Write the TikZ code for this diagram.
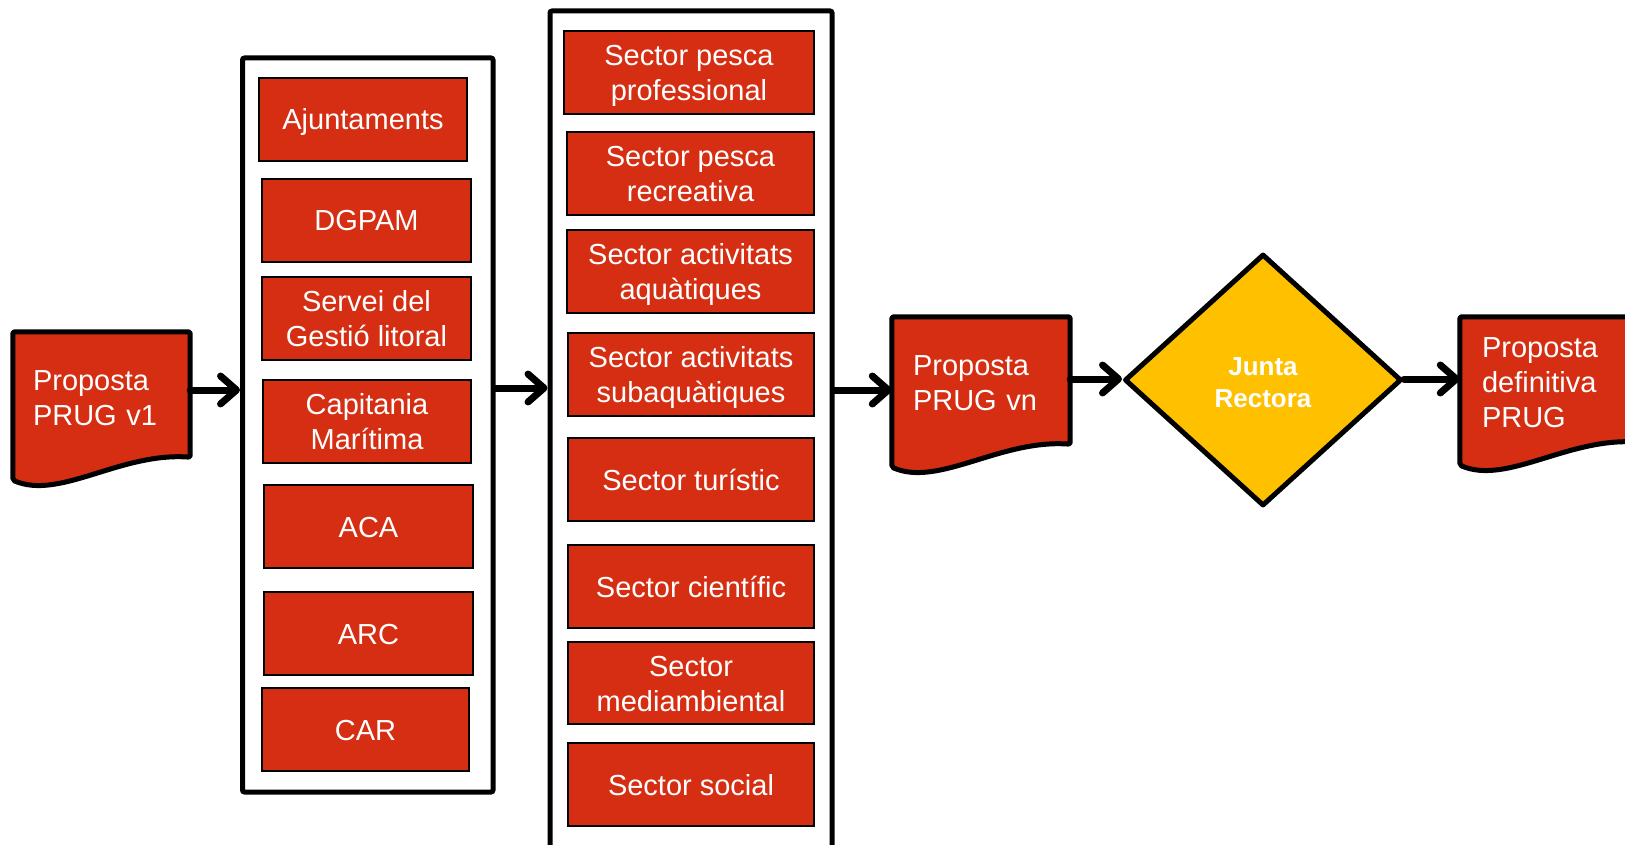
\documentclass[tikz,border=0pt]{standalone}
\usepackage{fontspec}
\setmainfont{Liberation Sans}
\usetikzlibrary{arrows.meta,shapes.geometric,calc}
\definecolor{boxred}{RGB}{213,46,19}
\definecolor{jyellow}{RGB}{255,192,0}
\newcommand\fsz{\fontsize{29pt}{35pt}\selectfont}
\newcommand\dpstrut[1]{\rule[-#1pt]{0pt}{#1pt}}
\newcommand\twolines[2]{\rule{0pt}{27pt}#1\\#2\rule[-6pt]{0pt}{6pt}}
\tikzset{
  redbox/.style={draw=black, line width=1.5pt, fill=boxred, text=white, inner sep=0pt,
    minimum height=83pt, align=center, font=\fsz},
  oneline/.style={text height=27pt, text depth=6pt},
  container/.style={draw=black, line width=5pt, rounded corners=2pt, inner sep=0pt},
  docnode/.style={text=white, inner ysep=0pt, align=left, font=\fsz},
  docline/.style={draw=black, line width=5pt, line join=round, rounded corners=2pt},
  flowarrow/.style={line width=7pt, line cap=round,
    -{Straight Barb[length=16pt,width=28pt,line cap=round,line join=round]}},
}
\newcommand\docshape[1]{%
  \fill[boxred] (#1.north west) -- (#1.north east) -- ([yshift=23pt]#1.south east)
    .. controls ([xshift=-70pt,yshift=28pt]#1.south east) and ([xshift=47pt,yshift=-20pt]#1.south west) .. (#1.south west) -- cycle;
  \draw[docline] (#1.north west) -- (#1.north east) -- ([yshift=23pt]#1.south east)
    .. controls ([xshift=-70pt,yshift=28pt]#1.south east) and ([xshift=47pt,yshift=-20pt]#1.south west) .. (#1.south west) -- cycle;}
\begin{document}
\begin{tikzpicture}[x=1pt,y=-1pt]
\clip (0,0) rectangle (1625,845);
\fill[white] (0,0) rectangle (1625,845);

% documents
\node[docnode, minimum height=148pt, text width=137pt, inner xsep=20pt] (d1) at (101.5,406) {};
\docshape{d1}
\node[docnode, minimum height=148pt, text width=137pt, inner xsep=20pt] at (d1) {Proposta\\PRUG v1\dpstrut{15}};

\node[docnode, minimum height=150pt, text width=136pt, inner xsep=21pt] (dn) at (981,392) {};
\docshape{dn}
\node[docnode, minimum height=150pt, text width=136pt, inner xsep=21pt] at (dn) {Proposta\\PRUG vn\dpstrut{17}};

\node[docnode, minimum height=148pt, text width=134pt, inner xsep=22pt] (df) at (1549,391) {};
\docshape{df}
\node[docnode, minimum height=148pt, text width=134pt, inner xsep=22pt] at (df) {Proposta\\definitiva\\PRUG\dpstrut{16}};

% containers
\node[container, minimum width=250.5pt, minimum height=734pt] (L) at (367.75,425) {};
\node[container, minimum width=282pt, minimum height=849pt] (R) at (691,435.5) {};

% left boxes
\node[redbox, oneline, minimum width=208pt] (b1) at (363,119.5) {Ajuntaments};
\node[redbox, oneline, minimum width=209pt] (b2) at (366.5,220.5) {DGPAM};
\node[redbox, minimum width=209pt] (b3) at (366.5,318.5) {\twolines{Servei del}{Gestió litoral}};
\node[redbox, minimum width=208pt] (b4) at (367,421.5) {\twolines{Capitania}{Marítima}};
\node[redbox, oneline, minimum width=209pt] (b5) at (368.5,526.5) {ACA};
\node[redbox, oneline, minimum width=209pt] (b6) at (368.5,633.5) {ARC};
\node[redbox, oneline, minimum width=207pt] (b7) at (365.5,729.5) {CAR};

% right boxes
\node[redbox, minimum width=250pt] (s1) at (689,72.5) {\twolines{Sector pesca}{professional}};
\node[redbox, minimum width=247pt] (s2) at (690.5,173.5) {\twolines{Sector pesca}{recreativa}};
\node[redbox, minimum width=247pt] (s3) at (690.5,271.5) {\twolines{Sector activitats}{aquàtiques}};
\node[redbox, minimum width=246pt] (s4) at (691,374.5) {\twolines{Sector activitats}{subaquàtiques}};
\node[redbox, oneline, minimum width=246pt] (s5) at (691,479.5) {Sector turístic};
\node[redbox, oneline, minimum width=246pt] (s6) at (691,586.5) {Sector científic};
\node[redbox, minimum width=246pt, minimum height=82pt] (s7) at (691,683) {\twolines{Sector}{mediambiental}};
\node[redbox, oneline, minimum width=246pt] (s8) at (691,784.5) {Sector social};

% diamond
\node[diamond, draw=black, fill=jyellow, line width=5pt, line join=round, inner sep=0pt,
  minimum width=277pt, minimum height=252pt, text=white, align=center,
  font=\fontsize{26pt}{32pt}\selectfont\bfseries] (J) at (1263,380) {\rule{0pt}{23pt}Junta\\Rectora};

% arrows
\draw[flowarrow] ([yshift=16pt]d1.east) -- ([yshift=16pt]d1.east -| L.west);
\draw[flowarrow] ([yshift=37pt]L.east) -- ([yshift=37pt]L.east -| R.west);
\draw[flowarrow] ([yshift=2pt]dn.west -| R.east) -- ([yshift=2pt]dn.west);
\draw[flowarrow] ([yshift=1pt]J.west -| dn.east) -- ([yshift=1pt]J.west);
\draw[flowarrow] ([yshift=1pt]J.east) -- ([yshift=1pt]J.east -| df.west);
\end{tikzpicture}
\end{document}
